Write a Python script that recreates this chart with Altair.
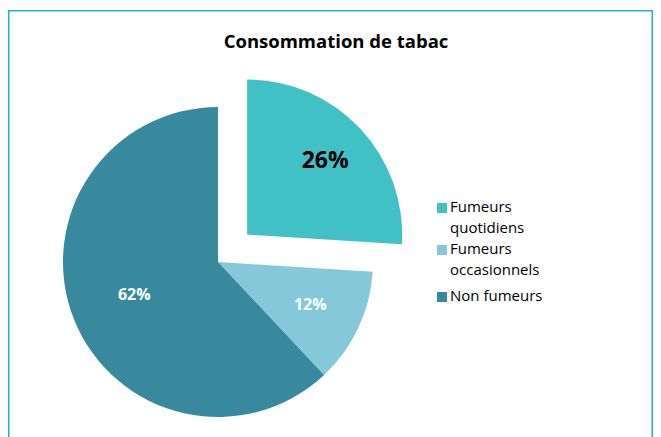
import math
import altair as alt
import pandas as pd

# ---- data ----
categories = ["Fumeurs quotidiens", "Fumeurs occasionnels", "Non fumeurs"]
values = [26, 12, 62]
labels = ["26%", "12%", "62%"]
legend_lines = [["Fumeurs", "quotidiens"], ["Fumeurs", "occasionnels"], ["Non fumeurs"]]
colors = ["#41C1C6", "#85C8DA", "#38889E"]

# ---- layout ----
W, H = 645, 429
CX, CY = 210, 254
R = 155
EXPLODE = [40, 0, 0]
LABEL_R = [107, 102, 90]
LEG_X = 434
LEG_Y = [200, 242, 289]
BORDER = "#1CB5CA"
FONT = "Open Sans"

total = sum(values)
rows = []
cum = 0
for i, (c, v, l) in enumerate(zip(categories, values, labels)):
    mid = (cum + v / 2) / total * 2 * math.pi
    cx = CX + EXPLODE[i] * math.sin(mid)
    cy = CY - EXPLODE[i] * math.cos(mid)
    rows.append({
        "category": c, "value": v, "label": l,
        "start": cum, "end": cum + v,
        "cx": cx, "cy": cy,
        "lx": cx + LABEL_R[i] * math.sin(mid),
        "ly": cy - LABEL_R[i] * math.cos(mid),
        "big": i == 0,
        "leg_y": LEG_Y[i],
        "leg_ty": LEG_Y[i] - 8,
        "leg_text": legend_lines[i],
    })
    cum += v
df = pd.DataFrame(rows)

theta_scale = alt.Scale(domain=[0, total], range=[0, 2 * math.pi])
color_scale = alt.Scale(domain=categories, range=colors)

base = alt.Chart(df)

arcs = base.mark_arc(outerRadius=R, stroke=None).encode(
    x=alt.X("cx:Q", scale=None),
    y=alt.Y("cy:Q", scale=None),
    theta=alt.Theta("start:Q", scale=theta_scale),
    theta2="end:Q",
    color=alt.Color("category:N", scale=color_scale, legend=None),
)

big_label = base.transform_filter("datum.big").mark_text(
    font=FONT, fontSize=23, fontWeight="bold", color="#000000", baseline="middle"
).encode(x=alt.X("lx:Q", scale=None), y=alt.Y("ly:Q", scale=None), text="label:N")

small_labels = base.transform_filter("!datum.big").mark_text(
    font=FONT, fontSize=16, fontWeight="bold", color="#FFFFFF", baseline="middle"
).encode(x=alt.X("lx:Q", scale=None), y=alt.Y("ly:Q", scale=None), text="label:N")

leg_sym = base.mark_square(size=100, opacity=1).encode(
    x=alt.value(LEG_X),
    y=alt.Y("leg_y:Q", scale=None),
    color=alt.Color("category:N", scale=color_scale, legend=None),
)
leg_txt = base.mark_text(
    font=FONT, fontSize=15, color="#000000", align="left", baseline="top", lineHeight=20.5
).encode(
    x=alt.value(LEG_X + 8),
    y=alt.Y("leg_ty:Q", scale=None),
    text="leg_text",
)

title = alt.Chart(pd.DataFrame({"t": ["Consommation de tabac"]})).mark_text(
    font=FONT, fontSize=18.5, fontWeight="bold", color="#000000", baseline="middle"
).encode(x=alt.value(328), y=alt.value(34), text="t:N")

one = pd.DataFrame({"k": [0]})
left = alt.Chart(one).mark_rule(color=BORDER, strokeWidth=1.5).encode(
    x=alt.value(0.75), y=alt.value(2), y2=alt.value(H))
top = alt.Chart(one).mark_rule(color=BORDER, strokeWidth=1.5).encode(
    x=alt.value(0), x2=alt.value(W), y=alt.value(2.75))
right = alt.Chart(one).mark_rule(color=BORDER, strokeWidth=1.5).encode(
    x=alt.value(W - 0.75), y=alt.value(2), y2=alt.value(H))

chart = alt.layer(arcs, big_label, small_labels, leg_sym, leg_txt, title, left, top, right).properties(
    width=W, height=H, padding=0, autosize=alt.AutoSizeParams(type="none")
).configure_view(stroke=None)

chart.save("out.html", embed_options={"renderer": "svg", "actions": False})
